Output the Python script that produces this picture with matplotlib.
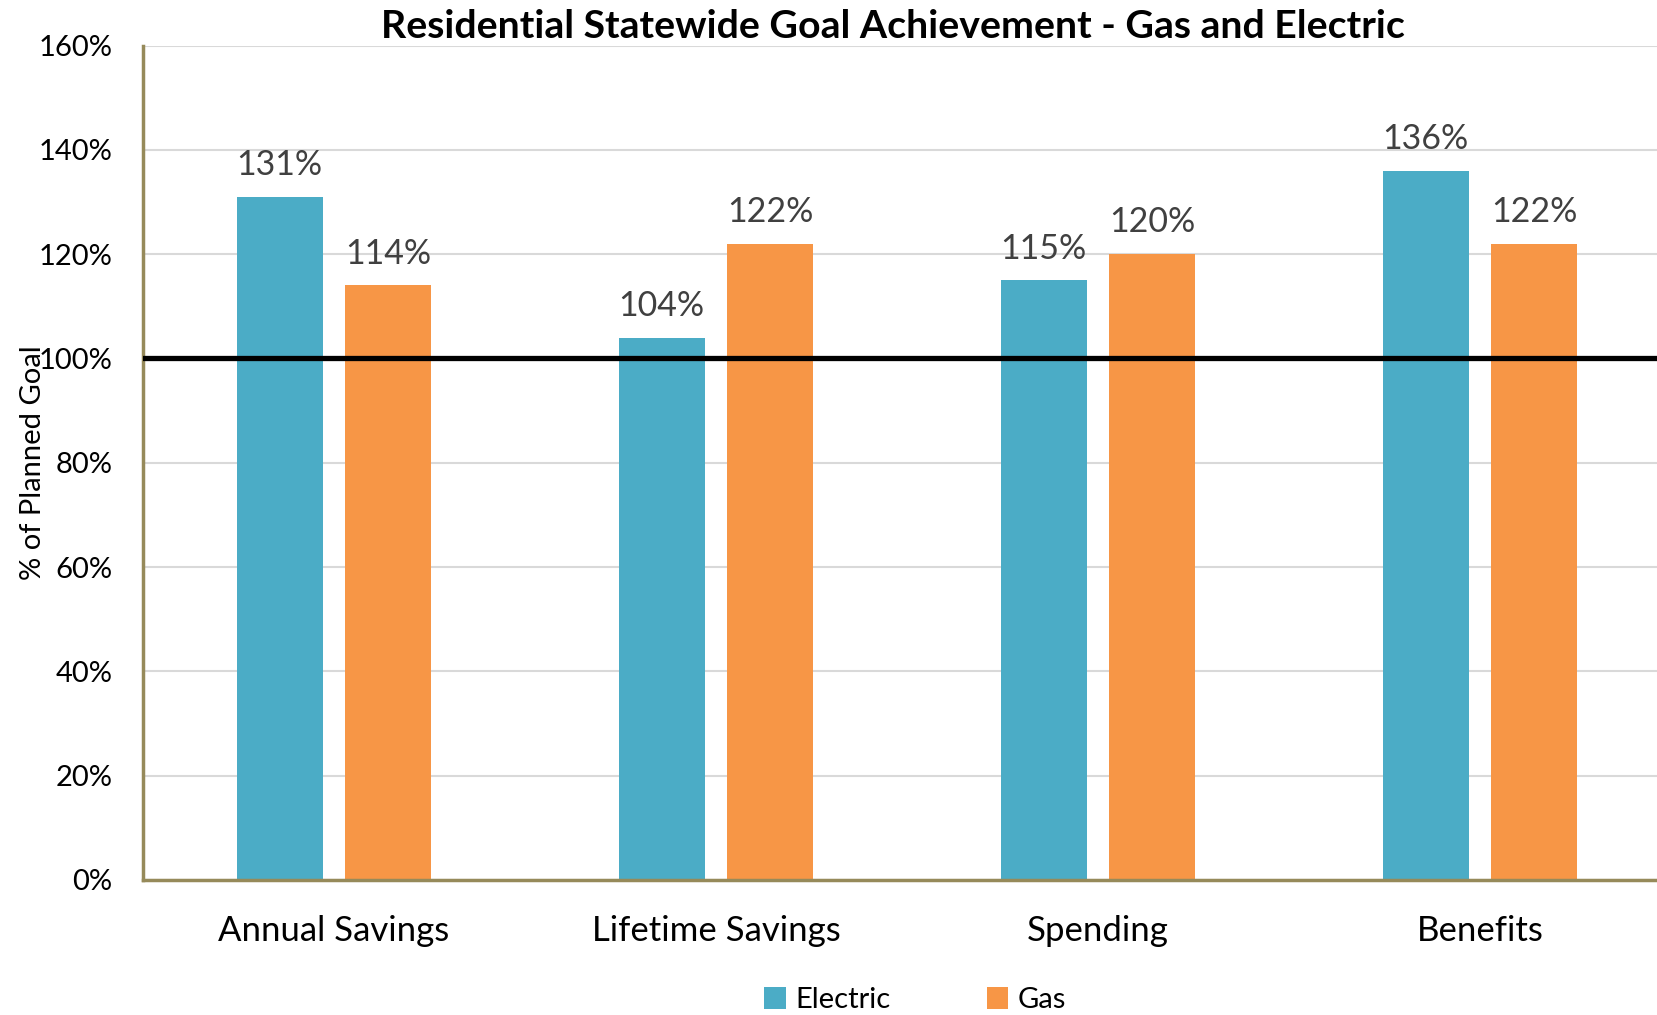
import matplotlib
matplotlib.use("Agg")
import matplotlib.pyplot as plt
import numpy as np

categories = ["Annual Savings", "Lifetime Savings", "Spending", "Benefits"]
electric = [131, 104, 115, 136]
gas = [114, 122, 120, 122]
yticks = [0, 20, 40, 60, 80, 100, 120, 140, 160]

plt.rcParams['font.family'] = ['Lato', 'DejaVu Sans']

fig = plt.figure(figsize=(16.57, 10.15), dpi=100)
ax = fig.add_axes([143 / 1657, 1 - 880 / 1015, 1 - 143 / 1657, (880 - 45.5) / 1015])

x = np.arange(len(categories))
w = 0.225
off = 0.1425
b1 = ax.bar(x - off, electric, w, color='#4BACC6', label='Electric', zorder=2)
b2 = ax.bar(x + off, gas, w, color='#F79646', label='Gas', zorder=2)

# value labels above each bar
for bars, vals in ((b1, electric), (b2, gas)):
    for bar, v in zip(bars, vals):
        ax.text(bar.get_x() + bar.get_width() / 2, v + 3, f"{v}%",
                ha='center', va='bottom', fontsize=24.5, color='#404040')

ax.axhline(100, color='black', linewidth=3.8, zorder=3)

ax.set_xlim(-0.5, (1657 - 143) / 382 - 0.5)
ax.set_ylim(0, 160)
ax.set_yticks(yticks)
ax.set_yticklabels([f"{t}%" for t in yticks], fontsize=21)
ax.set_xticks(x)
ax.set_xticklabels(categories, fontsize=25)
ax.tick_params(axis='y', length=0, pad=22)
ax.tick_params(axis='x', length=0, pad=25)

ax.grid(axis='y', color='#d9d9d9', linewidth=1.5, zorder=0)
ax.set_axisbelow(True)
for s in ('top', 'right'):
    ax.spines[s].set_visible(False)
for s in ('left', 'bottom'):
    ax.spines[s].set_color('#968A5A')
    ax.spines[s].set_linewidth(2.5)

ax.set_ylabel('% of Planned Goal', fontsize=21)
ax.yaxis.set_label_coords(-0.064, 0.5)

fig.text(893 / 1657, 1 - 26 / 1015, 'Residential Statewide Goal Achievement - Gas and Electric',
         ha='center', va='center', fontsize=28.3, fontweight='bold')

fig.legend(handles=[b1, b2], loc='center', bbox_to_anchor=(915 / 1657, 1 - 1000 / 1015),
           ncol=2, frameon=False, fontsize=21, handlelength=0.75, handleheight=0.75,
           handletextpad=0.3, columnspacing=3.3)

fig.savefig('out.png', dpi=100)
